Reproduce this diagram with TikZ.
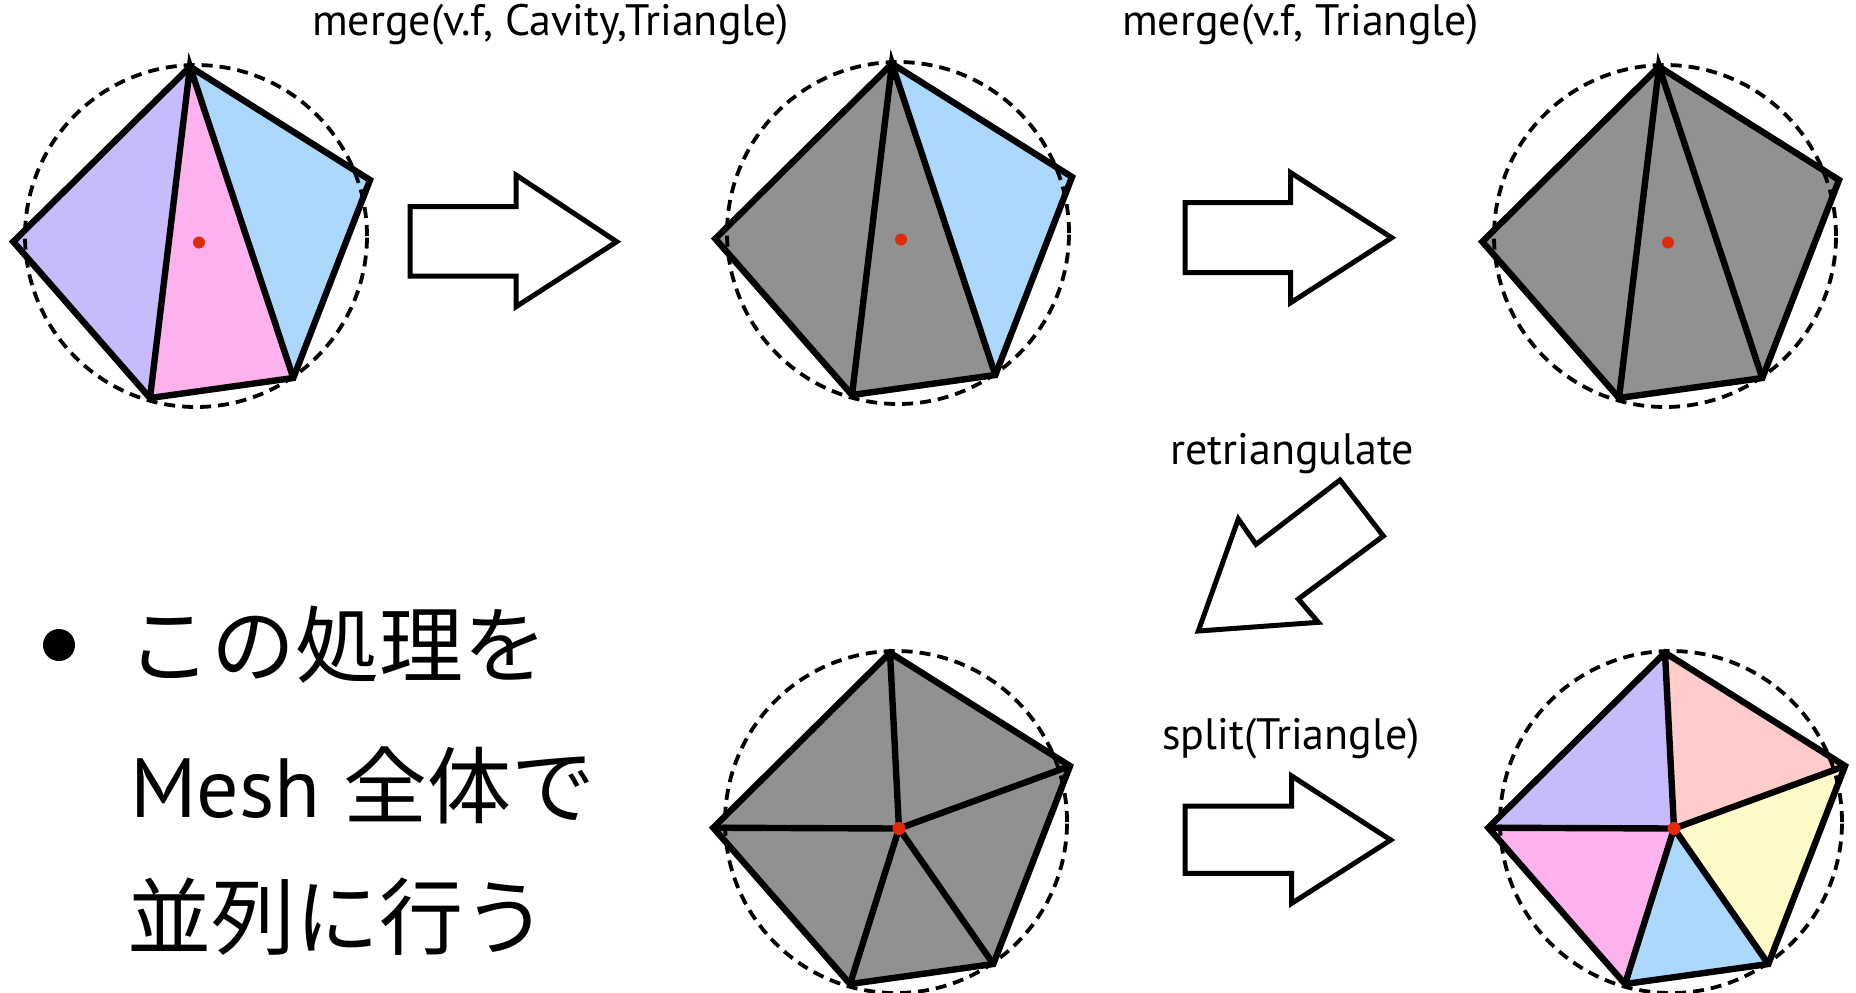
\documentclass[tikz,border=0pt]{standalone}
\usepackage{fontspec}
\setmainfont{PT Sans}
\newfontfamily\jpfont{Noto Sans CJK JP}
\definecolor{cPurple}{HTML}{C8BBFB}
\definecolor{cPink}{HTML}{FDB2EE}
\definecolor{cBlue}{HTML}{ACD8FD}
\definecolor{cGray}{HTML}{919191}
\definecolor{cSalmon}{HTML}{FFCCCB}
\definecolor{cYellow}{HTML}{FFFAC8}
\definecolor{cDot}{HTML}{E02A0A}
\newcommand{\mkpent}[3]{%
  \begin{scope}[shift={(#2,#3)}]
    \coordinate (#1T) at (190,66.7);
    \coordinate (#1R) at (370,180);
    \coordinate (#1BR) at (293.3,378);
    \coordinate (#1BL) at (150,398);
    \coordinate (#1L) at (13.3,241.7);
    \coordinate (#1C) at (199,242.5);
    \coordinate (#1O) at (196,236);
  \end{scope}}
\tikzset{
  meshedge/.style={line width=3.2pt, line join=miter},
  circumcirc/.style={line width=1.9pt, dash pattern=on 5.5pt off 3.5pt},
  blockarrow/.style={line width=2.5pt, fill=white, line join=miter},
  lbl/.style={font=\fontsize{22}{24}\selectfont, inner sep=0pt, anchor=base west},
  bigtxt/.style={font=\fontsize{42}{46}\selectfont, inner sep=0pt, anchor=west},
  reddot/.style={fill=cDot},
}
\begin{document}
\begin{tikzpicture}[x=0.5pt,y=-0.5pt]
\path[use as bounding box] (0,0) rectangle (1856,992);

\mkpent{a}{0}{0}
\mkpent{b}{702}{-3}
\mkpent{c}{1469}{0}
\mkpent{d}{700}{586}
\mkpent{e}{1475}{586}

% ---- shape a
\fill[cPurple] (aL)--(aT)--(aBL)--cycle;
\fill[cPink] (aT)--(aBR)--(aBL)--cycle;
\fill[cBlue] (aT)--(aR)--(aBR)--cycle;
\draw[circumcirc] (aO) circle[radius=85.5pt];
\draw[meshedge] (aT)--(aR)--(aBR)--(aBL)--(aL)--cycle;
\draw[meshedge] (aBL)--(aT)--(aBR);
\fill[reddot] (aC) circle[radius=3pt];

% ---- shape b
\fill[cGray] (bL)--(bT)--(bBR)--(bBL)--cycle;
\fill[cBlue] (bT)--(bR)--(bBR)--cycle;
\draw[circumcirc] (bO) circle[radius=85.5pt];
\draw[meshedge] (bT)--(bR)--(bBR)--(bBL)--(bL)--cycle;
\draw[meshedge] (bBL)--(bT)--(bBR);
\fill[reddot] (bC) circle[radius=3pt];

% ---- shape c
\fill[cGray] (cL)--(cT)--(cR)--(cBR)--(cBL)--cycle;
\draw[circumcirc] (cO) circle[radius=85.5pt];
\draw[meshedge] (cT)--(cR)--(cBR)--(cBL)--(cL)--cycle;
\draw[meshedge] (cBL)--(cT)--(cBR);
\fill[reddot] (cC) circle[radius=3pt];

% ---- shape d
\fill[cGray] (dL)--(dT)--(dR)--(dBR)--(dBL)--cycle;
\draw[circumcirc] (dO) circle[radius=85.5pt];
\draw[meshedge] (dT)--(dR)--(dBR)--(dBL)--(dL)--cycle;
\draw[meshedge] (dC)--(dT) (dC)--(dR) (dC)--(dBR) (dC)--(dBL) (dC)--(dL);
\fill[reddot] (dC) circle[radius=3.3pt];

% ---- shape e
\fill[cPurple] (eL)--(eT)--(eC)--cycle;
\fill[cSalmon] (eT)--(eR)--(eC)--cycle;
\fill[cYellow] (eR)--(eBR)--(eC)--cycle;
\fill[cBlue] (eBR)--(eBL)--(eC)--cycle;
\fill[cPink] (eBL)--(eL)--(eC)--cycle;
\draw[circumcirc] (eO) circle[radius=85.5pt];
\draw[meshedge] (eT)--(eR)--(eBR)--(eBL)--(eL)--cycle;
\draw[meshedge] (eC)--(eT) (eC)--(eR) (eC)--(eBR) (eC)--(eBL) (eC)--(eL);
\fill[reddot] (eC) circle[radius=3.3pt];

% ---- block arrows
\draw[blockarrow] (410,206.7)--(516,206.7)--(516,175)--(616.7,241.7)--(516,306.7)--(516,276)--(410,276)--cycle;
\draw[blockarrow] (1185,202.7)--(1290.7,202.7)--(1290.7,172.7)--(1391.7,237.7)--(1290.7,302.7)--(1290.7,272.7)--(1185,272.7)--cycle;
\draw[blockarrow] (1185,806)--(1291.7,806)--(1291.7,776)--(1390.7,840)--(1291.7,903.3)--(1291.7,873.3)--(1185,873.3)--cycle;
\draw[blockarrow] (1340,480)--(1383.3,536)--(1298.3,599)--(1318.3,622.3)--(1198.3,631)--(1238.3,519)--(1256,544.3)--cycle;

% ---- labels
\node[lbl] (l1) at (311.7,35) {merge(v.f, Cavity,Triangle)};
\node[lbl] (l2) at (1121.7,35) {merge(v.f, Triangle)};
\node[lbl] (l3) at (1170,464) {retriangulate};
\node[lbl] (l4) at (1161.7,749) {split(Triangle)};

% ---- bullet text
\node[circle, fill=black, minimum size=16pt, inner sep=0pt] (bul) at (59,645) {};
\node[bigtxt] (t1) at (127,645) {\jpfont この処理を};
\node[bigtxt] (t2) at (130,785) {Mesh {\jpfont 全体で}};
\node[bigtxt] (t3) at (127,917) {\jpfont 並列に行う};
\end{tikzpicture}
\end{document}
